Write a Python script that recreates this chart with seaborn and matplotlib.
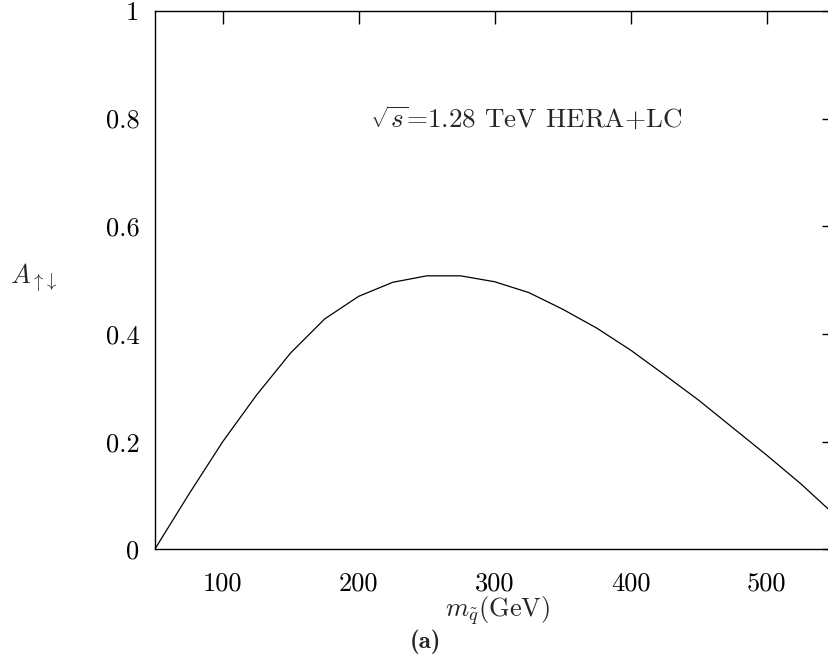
import matplotlib
matplotlib.use("Agg")
import matplotlib.pyplot as plt
import numpy as np
import pandas as pd
import seaborn as sns

# squark mass (GeV) and asymmetry
m_squark = [50, 75, 100, 125, 150, 175, 200, 225, 250, 275, 300,
            325, 350, 375, 400, 425, 450, 475, 500, 525, 550]
asym = [0.0, 0.102, 0.200, 0.287, 0.365, 0.428, 0.470, 0.496, 0.508, 0.508, 0.497,
        0.477, 0.446, 0.411, 0.370, 0.324, 0.277, 0.226, 0.175, 0.122, 0.064]

xticks = [100, 200, 300, 400, 500]
xticklabels = ["100", "200", "300", "400", "500"]
yticks = [0, 0.2, 0.4, 0.6, 0.8, 1.0]
yticklabels = ["0", "0.2", "0.4", "0.6", "0.8", "1"]

sns.set_theme(style="white")
plt.rcParams.update({
    "font.family": ["cmr10", "DejaVu Serif"],
    "mathtext.fontset": "cm",
    "axes.formatter.use_mathtext": True,
    "axes.edgecolor": "black",
    "axes.linewidth": 1.0,
})

df = pd.DataFrame({"m": m_squark, "A": asym})

W, H = 829, 659
fig = plt.figure(figsize=(W / 100, H / 100), dpi=100)
x0, x1 = 154.7, 834.7
ytop, ybot = 10.9, 549.4
ax = fig.add_axes([x0 / W, (H - ybot) / H, (x1 - x0) / W, (ybot - ytop) / H])

sns.lineplot(data=df, x="m", y="A", ax=ax, color="black", linewidth=0.9)

ax.set_xlim(50, 550)
ax.set_ylim(0, 1)
ax.set_xticks(xticks)
ax.set_xticklabels(xticklabels)
ax.set_yticks(yticks)
ax.set_yticklabels(yticklabels)
ax.tick_params(axis="both", which="both", direction="in", length=9.5, width=1.0,
               top=True, right=True, labelsize=19, colors="black")
ax.tick_params(axis="x", pad=16)
ax.tick_params(axis="y", pad=11)
ax.set_xlabel("")
ax.set_ylabel("")
for s in ax.spines.values():
    s.set_visible(True)
    s.set_color("black")
    s.set_linewidth(1.0)

ax.text(323, 0.783, r"$\sqrt{s}$=1.28 TeV HERA+LC", ha="center", va="baseline",
        fontsize=19.5)

fig.text(498 / W, 1 - 611 / H, r"$m_{\tilde{q}}(\mathrm{GeV})$", ha="center",
         va="center", fontsize=19)
fig.text(10 / W, 1 - 278 / H, r"$A_{\uparrow\!\downarrow}$", ha="left", va="center",
         fontsize=19)
fig.text(425 / W, 1 - 642 / H, "(a)", ha="center", va="center",
         fontsize=18, family=["cmb10", "DejaVu Serif"])

fig.savefig("out.png", dpi=100)
